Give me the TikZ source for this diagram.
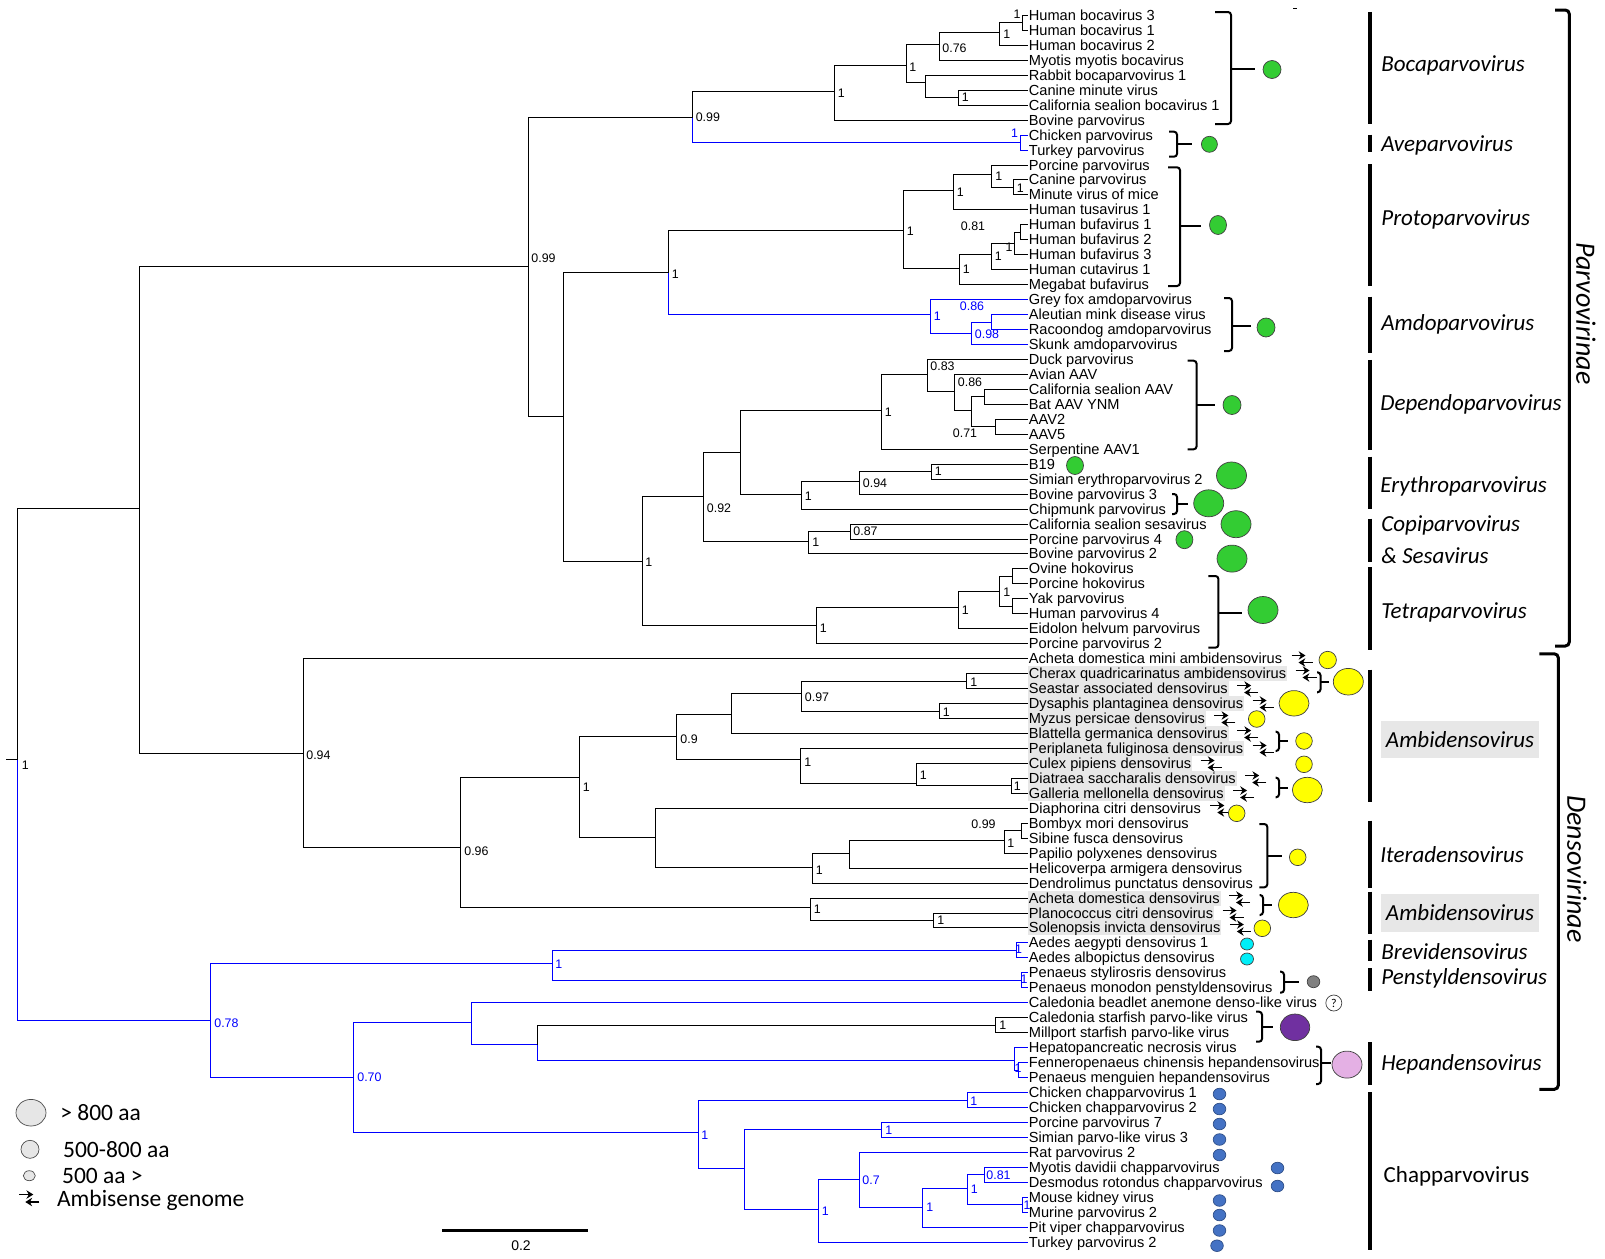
\documentclass[tikz,border=0pt]{standalone}
\usepackage{fontspec}
\usetikzlibrary{shapes.geometric,arrows.meta}
\newfontfamily\lib{Liberation Sans}
\newfontfamily\carl{Carlito}
\newcommand\myleaf{\lib\fontsize{7.3}{8}\selectfont}
\newcommand\mysv{\lib\fontsize{6.2}{7}\selectfont}
\newcommand\mygenus{\carl\itshape\fontsize{11.5}{13}\selectfont}
\newcommand\myfam{\carl\itshape\fontsize{14}{16}\selectfont}
\newcommand\myleg{\carl\fontsize{11.75}{13}\selectfont}
\definecolor{hlgray}{RGB}{231,231,231}
\definecolor{vgreen}{RGB}{51,204,51}
\definecolor{vyellow}{RGB}{255,255,0}
\definecolor{vcyan}{RGB}{0,238,248}
\definecolor{vpurple}{RGB}{112,48,160}
\definecolor{vpink}{RGB}{228,176,228}
\definecolor{vblue}{RGB}{68,114,196}
\definecolor{vgray}{RGB}{128,128,128}
\definecolor{lgray}{RGB}{230,230,230}
\newcommand\brkt[6]{%
  \draw[brk] (#1-#6,#2) -- (#1,#2) -- (#1,#3) -- (#1-#6,#3);
  \draw[brk] (#1,#4) -- (#5,#4);}
\tikzset{
  leaf/.style={anchor=west,inner xsep=0.5pt,inner ysep=0pt,text height=6.2pt,text depth=1.4pt,font=\myleaf},
  sv/.style={font=\mysv,inner sep=0pt,anchor=west},
  svb/.style={sv,text=blue},
  br/.style={line width=0.65pt},
  bb/.style={line width=0.65pt,draw=blue},
  brk/.style={line width=1pt,rounded corners=1.5pt},
  bar/.style={line width=2pt},
  fam/.style={font=\myfam,inner sep=0pt},
  genus/.style={font=\mygenus,anchor=west,inner sep=0pt},
  leg/.style={font=\myleg,anchor=west,inner sep=0pt},
  dot/.style={ellipse,draw=black!75,line width=0.35pt,inner sep=0pt},
  amb/.style={line width=0.65pt,-{Stealth[length=3.4pt,width=4.2pt]}},
}
\begin{document}
\begin{tikzpicture}[x=0.5pt,y=-0.5pt]
\fill[white] (0,0) rectangle (1605,1258);
\useasboundingbox (0,0) rectangle (1605,1258);

% ---------- leaves ----------
\foreach \t [count=\i] in {Human bocavirus 3,Human bocavirus 1,Human bocavirus 2,Myotis myotis bocavirus,Rabbit bocaparvovirus 1,Canine minute virus,California sealion bocavirus 1,Bovine parvovirus,Chicken parvovirus,Turkey parvovirus,Porcine parvovirus,Canine parvovirus,Minute virus of mice,Human tusavirus 1,Human bufavirus 1,Human bufavirus 2,Human bufavirus 3,Human cutavirus 1,Megabat bufavirus,Grey fox amdoparvovirus,Aleutian mink disease virus,Racoondog amdoparvovirus,Skunk amdoparvovirus,Duck parvovirus,Avian AAV,California sealion AAV,Bat AAV YNM,AAV2,AAV5,Serpentine AAV1,B19,Simian erythroparvovirus 2,Bovine parvovirus 3,Chipmunk parvovirus,California sealion sesavirus,Porcine parvovirus 4,Bovine parvovirus 2,Ovine hokovirus,Porcine hokovirus,Yak parvovirus,Human parvovirus 4,Eidolon helvum parvovirus,Porcine parvovirus 2,Acheta domestica mini ambidensovirus,Cherax quadricarinatus ambidensovirus,Seastar associated densovirus,Dysaphis plantaginea densovirus,Myzus persicae densovirus,Blattella germanica densovirus,Periplaneta fuliginosa densovirus,Culex pipiens densovirus,Diatraea saccharalis densovirus,Galleria mellonella densovirus,Diaphorina citri densovirus,Bombyx mori densovirus,Sibine fusca densovirus,Papilio polyxenes densovirus,Helicoverpa armigera densovirus,Dendrolimus punctatus densovirus,Acheta domestica densovirus,Planococcus citri densovirus,Solenopsis invicta densovirus,Aedes aegypti densovirus 1,Aedes albopictus densovirus,Penaeus stylirosris densovirus,Penaeus monodon penstyldensovirus,Caledonia beadlet anemone denso-like virus,Caledonia starfish parvo-like virus,Millport starfish parvo-like virus,Hepatopancreatic necrosis virus,Fenneropenaeus chinensis hepandensovirus,Penaeus menguien hepandensovirus,Chicken chapparvovirus 1,Chicken chapparvovirus 2,Porcine parvovirus 7,Simian parvo-like virus 3,Rat parvovirus 2,Myotis davidii chapparvovirus,Desmodus rotondus chapparvovirus,Mouse kidney virus,Murine parvovirus 2,Pit viper chapparvovirus,Turkey parvovirus 2}{
  \pgfmathsetmacro\yy{floor(15.4+(\i-1)*14.96)+0.5}
  \pgfmathtruncatemacro\myhl{and(\i>44,\i<54)+and(\i>59,\i<63)}
  \ifnum\myhl>0
    \node[leaf,fill=hlgray] (L\i) at (1027.5,\yy) {\t};
  \else
    \node[leaf] (L\i) at (1027.5,\yy) {\t};
  \fi
}

% ---------- internal nodes ----------
\coordinate (R0s) at (6,759.5);
\coordinate (R0) at (17.5,759.5);
\coordinate (A) at (139.5,508.5);
\coordinate (B) at (528.5,266.5);
\coordinate (C) at (692.5,117.5);
\coordinate (D) at (834.5,91.5);
\coordinate (E) at (906.5,65.5);
\coordinate (F) at (939.5,44.5);
\coordinate (H) at (999.5,32.5);
\coordinate (I) at (1022.5,22.5);
\coordinate (G) at (925.5,82.5);
\coordinate (J) at (958.5,97.5);
\coordinate (K) at (1020.5,142.5);
\coordinate (M) at (563.5,416.5);
\coordinate (N) at (668.5,272.5);
\coordinate (P) at (903.5,230.5);
\coordinate (R) at (953.5,190.5);
\coordinate (T) at (991.5,174.5);
\coordinate (U) at (1013.5,187.5);
\coordinate (S) at (959.5,268.5);
\coordinate (V) at (991.5,254.5);
\coordinate (W) at (1014.5,243.5);
\coordinate (X) at (1020.5,232.5);
\coordinate (Q) at (930.5,314.5);
\coordinate (Y) at (971.5,333.5);
\coordinate (Z) at (991.5,322.5);
\coordinate (O) at (642.5,561.5);
\coordinate (AA) at (703.5,496.5);
\coordinate (AB) at (740.5,452.5);
\coordinate (AD) at (881.5,410.5);
\coordinate (AF) at (927.5,374.5);
\coordinate (AG) at (954.5,391.5);
\coordinate (AH) at (971.5,410.5);
\coordinate (AI) at (984.5,396.5);
\coordinate (AJ) at (995.5,426.5);
\coordinate (AE) at (801.5,494.5);
\coordinate (AK) at (859.5,481.5);
\coordinate (AL) at (931.5,471.5);
\coordinate (AC) at (808.5,541.5);
\coordinate (AM) at (850.5,531.5);
\coordinate (AN) at (816.5,625.5);
\coordinate (AO) at (958.5,607.5);
\coordinate (AP) at (999.5,591.5);
\coordinate (AQ) at (1012.5,576.5);
\coordinate (AR) at (1012.5,606.5);
\coordinate (DA) at (303.5,753.5);
\coordinate (DB) at (460.5,847.5);
\coordinate (DC) at (579.5,777.5);
\coordinate (DE) at (676.5,736.5);
\coordinate (DG) at (731.5,714.5);
\coordinate (DI) at (801.5,693.5);
\coordinate (DJ) at (966.5,681.5);
\coordinate (DK) at (939.5,711.5);
\coordinate (DH) at (800.5,759.5);
\coordinate (DL) at (916.5,783.5);
\coordinate (DM) at (1011.5,785.5);
\coordinate (DF) at (655.5,837.5);
\coordinate (DN) at (812.5,867.5);
\coordinate (DO) at (849.5,853.5);
\coordinate (DP) at (1004.5,840.5);
\coordinate (DQ) at (1021.5,830.5);
\coordinate (DD) at (810.5,907.5);
\coordinate (DR) at (933.5,920.5);
\coordinate (LA) at (210.5,1020.5);
\coordinate (LB) at (552.5,963.5);
\coordinate (LD) at (1016.5,950.5);
\coordinate (LE) at (1021.5,980.5);
\coordinate (LC) at (353.5,1077.5);
\coordinate (LF) at (471.5,1022.5);
\coordinate (LH) at (537.5,1044.5);
\coordinate (LI) at (995.5,1025.5);
\coordinate (LJ) at (1014.5,1060.5);
\coordinate (LK) at (1018.5,1070.5);
\coordinate (LG) at (698.5,1132.5);
\coordinate (LL) at (967.5,1100.5);
\coordinate (LM) at (744.5,1168.5);
\coordinate (LN) at (881.5,1129.5);
\coordinate (LO) at (818.5,1209.5);
\coordinate (LP) at (859.5,1179.5);
\coordinate (LQ) at (922.5,1207.5);
\coordinate (LR) at (967.5,1188.5);
\coordinate (LS) at (984.5,1174.5);
\coordinate (LT) at (1022.5,1204.5);

% ---------- branches ----------
\draw[br] (R0s) -- (R0);
\draw[br] (A) -| (R0);
\draw[bb] (R0) |- (LA);
\draw[br] (B) -| (A) |- (DA);
\draw[br] (C) -| (B) |- (M);
\draw[br] (D) -| (C);
\draw[bb] (C) |- (K);
\draw[br] (E) -| (D) |- (L8.west);
\draw[br] (F) -| (E) |- (G);
\draw[br] (H) -| (F) |- (L4.west);
\draw[br] (I) -| (H) |- (L3.west);
\draw[br] (L1.west) -| (I) |- (L2.west);
\draw[br] (L5.west) -| (G) |- (J);
\draw[br] (L6.west) -| (J) |- (L7.west);
\draw[bb] (L9.west) -| (K) |- (L10.west);
\draw[br] (N) -| (M) |- (O);
\draw[br] (P) -| (N);
\draw[bb] (N) |- (Q);
\draw[br] (R) -| (P) |- (S);
\draw[br] (T) -| (R) |- (L14.west);
\draw[br] (L11.west) -| (T) |- (U);
\draw[br] (L12.west) -| (U) |- (L13.west);
\draw[br] (V) -| (S) |- (L19.west);
\draw[br] (W) -| (V) |- (L18.west);
\draw[br] (X) -| (W) |- (L17.west);
\draw[br] (L15.west) -| (X) |- (L16.west);
\draw[bb] (L20.west) -| (Q) |- (Y);
\draw[bb] (Z) -| (Y) |- (L23.west);
\draw[bb] (L21.west) -| (Z) |- (L22.west);
\draw[br] (AA) -| (O) |- (AN);
\draw[br] (AB) -| (AA) |- (AC);
\draw[br] (AD) -| (AB) |- (AE);
\draw[br] (AF) -| (AD) |- (L30.west);
\draw[br] (L24.west) -| (AF) |- (AG);
\draw[br] (L25.west) -| (AG) |- (AH);
\draw[br] (AI) -| (AH) |- (AJ);
\draw[br] (L26.west) -| (AI) |- (L27.west);
\draw[br] (L28.west) -| (AJ) |- (L29.west);
\draw[br] (AK) -| (AE) |- (L34.west);
\draw[br] (AL) -| (AK) |- (L33.west);
\draw[br] (L31.west) -| (AL) |- (L32.west);
\draw[br] (AM) -| (AC) |- (L37.west);
\draw[br] (L35.west) -| (AM) |- (L36.west);
\draw[br] (AO) -| (AN) |- (L43.west);
\draw[br] (AP) -| (AO) |- (L42.west);
\draw[br] (AQ) -| (AP) |- (AR);
\draw[br] (L38.west) -| (AQ) |- (L39.west);
\draw[br] (L40.west) -| (AR) |- (L41.west);
\draw[br] (L44.west) -| (DA) |- (DB);
\draw[br] (DC) -| (DB) |- (DD);
\draw[br] (DE) -| (DC) |- (DF);
\draw[br] (DG) -| (DE) |- (DH);
\draw[br] (DI) -| (DG) |- (L49.west);
\draw[br] (DJ) -| (DI) |- (DK);
\draw[br] (L45.west) -| (DJ) |- (L46.west);
\draw[br] (L47.west) -| (DK) |- (L48.west);
\draw[br] (L50.west) -| (DH) |- (DL);
\draw[br] (L51.west) -| (DL) |- (DM);
\draw[br] (L52.west) -| (DM) |- (L53.west);
\draw[br] (L54.west) -| (DF) |- (DN);
\draw[br] (DO) -| (DN) |- (L59.west);
\draw[br] (DP) -| (DO) |- (L58.west);
\draw[br] (DQ) -| (DP) |- (L57.west);
\draw[br] (L55.west) -| (DQ) |- (L56.west);
\draw[br] (L60.west) -| (DD) |- (DR);
\draw[br] (L61.west) -| (DR) |- (L62.west);
\draw[bb] (LB) -| (LA) |- (LC);
\draw[bb] (LD) -| (LB) |- (LE);
\draw[bb] (L63.west) -| (LD) |- (L64.west);
\draw[bb] (L65.west) -| (LE) |- (L66.west);
\draw[bb] (LF) -| (LC) |- (LG);
\draw[bb] (L67.west) -| (LF) |- (LH);
\draw[br] (LI) -| (LH);
\draw[bb] (LH) |- (LJ);
\draw[br] (L68.west) -| (LI) |- (L69.west);
\draw[bb] (L70.west) -| (LJ) |- (LK);
\draw[bb] (L71.west) -| (LK) |- (L72.west);
\draw[bb] (LL) -| (LG) |- (LM);
\draw[bb] (L73.west) -| (LL) |- (L74.west);
\draw[bb] (LN) -| (LM) |- (LO);
\draw[bb] (L75.west) -| (LN) |- (L76.west);
\draw[bb] (LP) -| (LO) |- (L83.west);
\draw[bb] (L77.west) -| (LP) |- (LQ);
\draw[bb] (LR) -| (LQ) |- (L82.west);
\draw[bb] (LS) -| (LR) |- (LT);
\draw[bb] (L78.west) -| (LS) |- (L79.west);
\draw[bb] (L80.west) -| (LT) |- (L81.west);

% ---------- support values ----------
\node[sv] (sR0) at (21.5,765.5) {1};
\node[sv] (sB) at (531,258) {0.99};
\node[sv] (sC) at (695.4,117.3) {0.99};
\node[sv] (sD) at (837.5,93) {1};
\node[sv] (sE) at (909,67) {1};
\node[sv] (sF) at (942,48) {0.76};
\node[sv] (sH) at (1003,34) {1};
\node[sv,anchor=east] (sI) at (1021,14) {1};
\node[sv] (sJ) at (961.5,97.5) {1};
\node[svb,anchor=east] (sK) at (1018.5,133.5) {1};
\node[sv] (sN) at (671.5,274) {1};
\node[sv] (sP) at (906.5,231) {1};
\node[sv] (sR) at (956.5,192) {1};
\node[sv] (sT) at (995,176) {1};
\node[sv] (sU) at (1016.5,188) {1};
\node[sv,anchor=center] (sX) at (973,226) {0.81};
\node[sv,anchor=east] (sW) at (1013,247) {1};
\node[sv] (sV) at (994.5,256) {1};
\node[sv] (sS) at (962.5,269) {1};
\node[svb] (sQ) at (933.5,316) {1};
\node[svb] (sY) at (974.5,334) {0.98};
\node[svb,anchor=center] (sZ) at (972,306.7) {0.86};
\node[sv] (sO) at (645,562) {1};
\node[sv] (sAA) at (706.5,508) {0.92};
\node[sv] (sAD) at (884.5,412) {1};
\node[sv] (sAF) at (930,366) {0.83};
\node[sv] (sAG) at (957.5,382) {0.86};
\node[sv,anchor=center] (sAH) at (965,433) {0.71};
\node[sv] (sAE) at (804.5,496) {1};
\node[sv] (sAK) at (862.5,483) {0.94};
\node[sv] (sAL) at (934.5,471.5) {1};
\node[sv] (sAC) at (812,542) {1};
\node[sv] (sAM) at (853,531.5) {0.87};
\node[sv] (sAN) at (819.5,628) {1};
\node[sv] (sAO) at (961.5,610) {1};
\node[sv] (sAP) at (1003,592) {1};
\node[sv] (sDA) at (306,755) {0.94};
\node[sv] (sDB) at (464,851.7) {0.96};
\node[sv] (sDC) at (582.5,787) {1};
\node[sv] (sDE) at (680,739) {0.9};
\node[sv] (sDI) at (804.5,697) {0.97};
\node[sv] (sDJ) at (970,682) {1};
\node[sv] (sDK) at (942.5,712) {1};
\node[sv] (sDH) at (804,762) {1};
\node[sv] (sDL) at (919.5,775) {1};
\node[sv] (sDM) at (1013.5,786) {1};
\node[sv] (sDN) at (815.5,870) {1};
\node[sv] (sDP) at (1007,843) {1};
\node[sv,anchor=center] (sDQ) at (983.5,824) {0.99};
\node[sv] (sDD) at (813.5,909.5) {1};
\node[sv] (sDR) at (937,920) {1};
\node[svb] (sLA) at (214,1023) {0.78};
\node[svb] (sLB) at (555,964.5) {1};
\node[svb,anchor=center] (sLD) at (1018.5,949) {1};
\node[svb,anchor=center] (sLE) at (1024,979) {1};
\node[svb] (sLC) at (357,1077.5) {0.70};
\node[sv] (sLI) at (999,1025.5) {1};
\node[svb,anchor=center] (sLJ) at (1018,1068.3) {1};
\node[svb] (sLG) at (701,1135) {1};
\node[svb] (sLL) at (970,1101) {1};
\node[svb] (sLN) at (885,1130) {1};
\node[svb] (sLO) at (821.5,1211) {1};
\node[svb] (sLP) at (862,1180) {0.7};
\node[svb] (sLQ) at (926,1207.5) {1};
\node[svb] (sLR) at (970.5,1189) {1};
\node[svb] (sLS) at (986,1175) {0.81};
\node[svb,anchor=center] (sLT) at (1027,1205) {1};

% ---------- ambisense arrows ----------
\foreach \i in {44,...,54,60,61,62}{
  \draw[amb] ([shift={(8,-3)}]L\i.east) -- ++(14,0);
  \draw[amb] ([shift={(29,4)}]L\i.east) -- ++(-14,0);
}

% ---------- brackets ----------
\brkt{1231}{12}{124}{68.5}{1255}{16}
\brkt{1177}{131.7}{156.7}{144}{1192}{8}
\brkt{1180}{167.3}{286}{226}{1201}{12}
\brkt{1232}{298}{351}{326}{1251}{8}
\brkt{1196.6}{360.7}{449.3}{405}{1215}{9}
\brkt{1177}{494}{514}{503.5}{1188}{5}
\brkt{1218.4}{576}{647.7}{612.7}{1241.7}{10}
\brkt{1320.5}{672.3}{692.3}{682}{1329.3}{3.5}
\brkt{1279}{731.7}{751}{741}{1288.3}{3.5}
\brkt{1279}{777.7}{797.3}{787.5}{1288.3}{3.5}
\brkt{1267.3}{824}{887.3}{856}{1282}{8}
\brkt{1263}{895}{915}{905}{1271.7}{3.5}
\brkt{1284}{971.7}{992.7}{982}{1299}{4}
\brkt{1262}{1011.7}{1041.7}{1026.7}{1273}{6}
\brkt{1321}{1046.7}{1084}{1063.3}{1330.7}{5}

% ---------- dots ----------
\node[dot,fill=vgreen,minimum width=9pt,minimum height=9pt] (gBoca) at (1272,69.5) {};
\node[dot,fill=vgreen,minimum width=8pt,minimum height=8pt] (gAve) at (1209.4,144.3) {};
\node[dot,fill=vgreen,minimum width=8.5pt,minimum height=9.5pt] (gProto) at (1218,225) {};
\node[dot,fill=vgreen,minimum width=9pt,minimum height=9.5pt] (gAmdo) at (1266,327.5) {};
\node[dot,fill=vgreen,minimum width=9pt,minimum height=9.5pt] (gDep) at (1232,405) {};
\node[dot,fill=vgreen,minimum width=8.5pt,minimum height=9pt] (gB19) at (1075,465.5) {};
\node[dot,fill=vgreen,minimum width=15pt,minimum height=13.5pt] (gSim) at (1231.5,475.5) {};
\node[dot,fill=vgreen,minimum width=15pt,minimum height=13.5pt] (gBPV3) at (1208.7,503.3) {};
\node[dot,fill=vgreen,minimum width=15pt,minimum height=13.5pt] (gCSL) at (1236,524.2) {};
\node[dot,fill=vgreen,minimum width=8.5pt,minimum height=9pt] (gPPV4) at (1184.4,539.7) {};
\node[dot,fill=vgreen,minimum width=15pt,minimum height=13.5pt] (gBPV2) at (1232,558.6) {};
\node[dot,fill=vgreen,minimum width=15pt,minimum height=13.5pt] (gTetra) at (1263,610) {};
\node[dot,fill=vyellow,minimum width=8.7pt,minimum height=8.7pt] (yAch) at (1327.7,660) {};
\node[dot,fill=vyellow,minimum width=15pt,minimum height=13.3pt] (yCher) at (1348.3,681.7) {};
\node[dot,fill=vyellow,minimum width=15pt,minimum height=12.7pt] (yDys) at (1294,703.3) {};
\node[dot,fill=vyellow,minimum width=8.3pt,minimum height=8.3pt] (yMyz) at (1256.7,719) {};
\node[dot,fill=vyellow,minimum width=8.3pt,minimum height=8.3pt] (yBla) at (1304,741) {};
\node[dot,fill=vyellow,minimum width=8.3pt,minimum height=8.3pt] (yCul) at (1304,764.3) {};
\node[dot,fill=vyellow,minimum width=15pt,minimum height=12.7pt] (yDia) at (1307.3,790) {};
\node[dot,fill=vyellow,minimum width=8.3pt,minimum height=8.3pt] (yDph) at (1236.7,813.3) {};
\node[dot,fill=vyellow,minimum width=8.3pt,minimum height=8.3pt] (yIte) at (1297.7,857.3) {};
\node[dot,fill=vyellow,minimum width=15pt,minimum height=12.7pt] (yAD) at (1293.3,905) {};
\node[dot,fill=vyellow,minimum width=8.3pt,minimum height=8.3pt] (ySol) at (1262.3,928.3) {};
\node[dot,fill=vcyan,minimum width=6.5pt,minimum height=6pt] (cAe1) at (1247,944) {};
\node[dot,fill=vcyan,minimum width=6.5pt,minimum height=6pt] (cAe2) at (1247,959) {};
\node[dot,fill=vgray,minimum width=6.3pt,minimum height=6pt] (gPen) at (1313.5,981.7) {};
\node[dot,fill=white,minimum width=8pt,minimum height=8pt,font=\carl\fontsize{6}{6}\selectfont] (qm) at (1333.8,1003) {?};
\node[dot,fill=vpurple,minimum width=14.7pt,minimum height=13.3pt] (pCal) at (1295,1027.3) {};
\node[dot,fill=vpink,minimum width=15pt,minimum height=13.5pt] (pHep) at (1347,1064.6) {};
\foreach \n/\xx/\yy in {73/1219.5/1094,74/1219.5/1109,75/1219.5/1124,76/1219.5/1139.5,77/1219.5/1155,78/1277.5/1168,79/1277.5/1186,80/1219.5/1200.5,81/1219.5/1215,82/1219.5/1230.5,83/1217/1245.7}{
  \node[dot,fill=vblue,draw=vblue!70!black,minimum width=6.3pt,minimum height=5.8pt] (b\n) at (\xx,\yy) {};
}

% ---------- genus bars ----------
\foreach \a/\b in {11.8/124.2,134.7/152.4,164.1/286.2,296.7/352.7,359.8/450.3,456.6/509.3,518.5/561.9,567.3/650,669.6/801.6,820.5/888.3,891.5/933.7,939.6/961.2,968/990.8,1042/1085.4,1092/1250}{
  \draw[bar] (1370,\a) -- (1370,\b);
}

% ---------- genus labels ----------
\node[genus] (tBoca) at (1381,65) {Bocaparvovirus};
\node[genus] (tAve) at (1381,145) {Aveparvovirus};
\node[genus] (tProto) at (1381,219) {Protoparvovirus};
\node[genus] (tAmdo) at (1381,324) {Amdoparvovirus};
\node[genus] (tDep) at (1380,404) {Dependoparvovirus};
\node[genus] (tEry) at (1380,486) {Erythroparvovirus};
\node[genus] (tCopi) at (1381,525) {Copiparvovirus};
\node[genus] (tSesa) at (1381,555.6) {\& Sesavirus};
\node[genus] (tTetra) at (1381,612) {Tetraparvovirus};
\node[genus,anchor=center,fill=hlgray,minimum width=79.2pt,minimum height=18.7pt] (tAmbi1) at (1460,739.5) {Ambidensovirus};
\node[genus] (tIte) at (1380,855) {Iteradensovirus};
\node[genus,anchor=center,fill=hlgray,minimum width=79.2pt,minimum height=18.7pt] (tAmbi2) at (1460,913) {Ambidensovirus};
\node[genus] (tBrevi) at (1381,951.4) {Brevidensovirus};
\node[genus] (tPens) at (1381,978.2) {Penstyldensovirus};
\node[genus] (tHep) at (1381,1064.5) {Hepandensovirus};
\node[genus,font=\carl\fontsize{11.5}{13}\selectfont] (tChap) at (1383.3,1176) {Chapparvovirus};

% ---------- subfamily brackets ----------
\draw[line width=1.5pt,rounded corners=2pt] (1555,10) -- (1569.3,10) -- (1569.3,646) -- (1555,646);
\draw[line width=1.5pt,rounded corners=2pt] (1539.3,653.8) -- (1558.3,653.8) -- (1558.3,1089.3) -- (1539.3,1089.3);
\node[fam,rotate=-90] (tParvo) at (1586,313.5) {Parvovirinae};
\node[fam,rotate=-90] (tDenso) at (1577,869) {Densovirinae};

% ---------- legend ----------
\node[dot,fill=lgray,draw=black!70,minimum width=15pt,minimum height=13.3pt] (lg1) at (31,1112.7) {};
\node[leg] (lt1) at (60,1113) {> 800 aa};
\node[dot,fill=lgray,draw=black!70,minimum width=9pt,minimum height=9pt] (lg2) at (30,1149.3) {};
\node[leg] (lt2) at (62.7,1149.5) {500-800 aa};
\node[dot,fill=lgray,draw=black!70,minimum width=6pt,minimum height=5pt] (lg3) at (29.3,1175.7) {};
\node[leg] (lt3) at (61.7,1176) {500 aa >};
\coordinate (la1) at (19.3,1194.5);
\coordinate (la2) at (39.3,1202);
\draw[amb] (la1) -- ++(14,0);
\draw[amb] (la2) -- ++(-14,0);
\node[leg] (lt4) at (56.7,1200) {Ambisense genome};

% ---------- scale bar ----------
\coordinate (sb1) at (442.3,1230.7);
\coordinate (sb2) at (587.5,1230.7);
\draw[line width=1.3pt] (sb1) -- (sb2);
\node[font=\lib\fontsize{7}{8}\selectfont,inner sep=0pt] (sbl) at (521,1246) {0.2};

% small mark at top
\coordinate (tm1) at (1293,8);
\coordinate (tm2) at (1297,8);
\draw[line width=0.5pt] (tm1) -- (tm2);
\end{tikzpicture}
\end{document}
